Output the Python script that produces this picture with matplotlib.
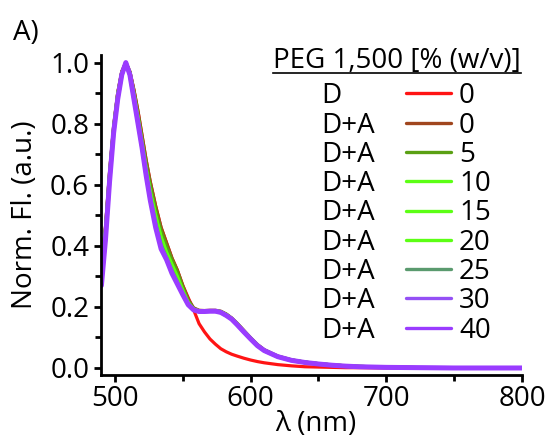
import matplotlib
matplotlib.use("Agg")
import matplotlib.pyplot as plt
from matplotlib.lines import Line2D
from matplotlib.ticker import MultipleLocator

plt.rcParams["font.family"] = ["Open Sans", "DejaVu Sans"]

# emission spectra
wl = [490, 493, 496, 499, 502, 505, 508, 511, 514, 517, 520, 523, 526, 530, 534,
      538, 542, 546, 550, 554, 558, 562, 566, 570, 574, 578, 582, 586, 590, 595,
      600, 605, 610, 620, 630, 640, 650, 660, 670, 680, 700, 725, 750, 775, 800]

d_0 = [0.33, 0.46, 0.64, 0.79, 0.90, 0.97, 1.00, 0.97, 0.91, 0.84, 0.76, 0.68, 0.61, 0.53, 0.46,
       0.41, 0.36, 0.32, 0.27, 0.23, 0.19, 0.145, 0.118, 0.095, 0.078, 0.063, 0.053, 0.045, 0.039, 0.032,
       0.026, 0.021, 0.017, 0.011, 0.007, 0.004, 0.003, 0.002, 0.001, 0.001, 0.0, 0.0, 0.0, 0.0, 0.0]
da_0 = [0.33, 0.46, 0.64, 0.79, 0.90, 0.97, 1.00, 0.97, 0.91, 0.84, 0.76, 0.68, 0.61, 0.53, 0.46,
        0.41, 0.36, 0.32, 0.27, 0.225, 0.197, 0.189, 0.188, 0.189, 0.189, 0.186, 0.177, 0.164, 0.147, 0.123,
        0.099, 0.077, 0.060, 0.039, 0.027, 0.019, 0.014, 0.010, 0.007, 0.005, 0.003, 0.001, 0.001, 0.0, 0.0]
da_5 = [0.33, 0.46, 0.64, 0.79, 0.90, 0.97, 1.00, 0.97, 0.905, 0.83, 0.75, 0.67, 0.60, 0.52, 0.45,
        0.40, 0.355, 0.315, 0.265, 0.22, 0.195, 0.188, 0.187, 0.188, 0.188, 0.185, 0.176, 0.163, 0.146, 0.122,
        0.098, 0.076, 0.059, 0.038, 0.026, 0.019, 0.014, 0.010, 0.007, 0.005, 0.003, 0.001, 0.001, 0.0, 0.0]
da_10 = [0.32, 0.45, 0.63, 0.785, 0.895, 0.965, 1.00, 0.965, 0.895, 0.82, 0.74, 0.655, 0.58, 0.50, 0.43,
         0.38, 0.34, 0.30, 0.255, 0.215, 0.193, 0.187, 0.186, 0.187, 0.187, 0.184, 0.175, 0.162, 0.145, 0.121,
         0.097, 0.075, 0.058, 0.038, 0.026, 0.019, 0.014, 0.010, 0.007, 0.005, 0.003, 0.001, 0.001, 0.0, 0.0]
da_15 = [0.32, 0.45, 0.63, 0.785, 0.895, 0.965, 1.00, 0.965, 0.895, 0.82, 0.735, 0.65, 0.575, 0.495, 0.425,
         0.375, 0.335, 0.295, 0.252, 0.213, 0.192, 0.187, 0.186, 0.187, 0.187, 0.184, 0.175, 0.162, 0.145, 0.121,
         0.097, 0.075, 0.058, 0.038, 0.026, 0.019, 0.014, 0.010, 0.007, 0.005, 0.003, 0.001, 0.001, 0.0, 0.0]
da_20 = [0.31, 0.44, 0.625, 0.78, 0.89, 0.965, 1.00, 0.965, 0.89, 0.815, 0.73, 0.645, 0.57, 0.49, 0.42,
         0.37, 0.33, 0.29, 0.25, 0.212, 0.191, 0.186, 0.186, 0.187, 0.187, 0.183, 0.174, 0.161, 0.144, 0.120,
         0.096, 0.074, 0.058, 0.038, 0.026, 0.019, 0.014, 0.010, 0.007, 0.005, 0.003, 0.001, 0.001, 0.0, 0.0]
da_25 = [0.30, 0.43, 0.62, 0.775, 0.885, 0.96, 1.00, 0.96, 0.885, 0.81, 0.725, 0.64, 0.56, 0.475, 0.405,
         0.362, 0.32, 0.282, 0.245, 0.21, 0.19, 0.185, 0.185, 0.186, 0.186, 0.182, 0.173, 0.160, 0.143, 0.119,
         0.095, 0.074, 0.057, 0.037, 0.025, 0.018, 0.013, 0.009, 0.006, 0.004, 0.002, 0.001, 0.0, 0.0, 0.0]
da_30 = [0.28, 0.425, 0.615, 0.772, 0.882, 0.96, 1.00, 0.96, 0.882, 0.803, 0.722, 0.633, 0.553, 0.465, 0.395,
         0.357, 0.313, 0.277, 0.242, 0.208, 0.19, 0.185, 0.185, 0.186, 0.186, 0.182, 0.172, 0.160, 0.142, 0.118,
         0.095, 0.073, 0.057, 0.037, 0.025, 0.018, 0.013, 0.009, 0.006, 0.004, 0.002, 0.001, 0.0, 0.0, 0.0]
da_40 = [0.27, 0.42, 0.61, 0.77, 0.88, 0.96, 1.00, 0.96, 0.88, 0.80, 0.72, 0.63, 0.55, 0.46, 0.39,
         0.355, 0.31, 0.275, 0.24, 0.207, 0.19, 0.185, 0.185, 0.186, 0.186, 0.182, 0.172, 0.160, 0.142, 0.118,
         0.095, 0.073, 0.057, 0.037, 0.025, 0.018, 0.013, 0.009, 0.006, 0.004, 0.002, 0.001, 0.0, 0.0, 0.0]

series = [d_0, da_0, da_5, da_10, da_15, da_20, da_25, da_30, da_40]
samples = ["D", "D+A", "D+A", "D+A", "D+A", "D+A", "D+A", "D+A", "D+A"]
peg = ["0", "0", "5", "10", "15", "20", "25", "30", "40"]
colors = ["#ff1414", "#a0461e", "#5aa014", "#5cff14", "#5cff14", "#5cff14",
          "#5a9a6e", "#9450f5", "#9a3cff"]
widths = [2.3, 2.3, 2.3, 2.3, 2.3, 2.3, 2.3, 2.8, 3.6]

FS = 20
W, H = 553, 441
fig = plt.figure(figsize=(W / 100, H / 100), dpi=100)
ax = fig.add_axes([101 / W, 1 - 375 / H, 421 / W, 320 / H])

for y, c, lw in zip(series, colors, widths):
    ax.plot(wl, y, color=c, lw=lw, solid_joinstyle="round", solid_capstyle="round")

ax.set_xlim(489.7, 800)
ax.set_ylim(-0.023, 1.025)
ax.xaxis.set_major_locator(MultipleLocator(100))
ax.xaxis.set_minor_locator(MultipleLocator(50))
ax.yaxis.set_major_locator(MultipleLocator(0.2))
ax.yaxis.set_minor_locator(MultipleLocator(0.1))
ax.yaxis.set_major_formatter(lambda v, p: f"{v:.1f}")
for s in ["top", "right"]:
    ax.spines[s].set_visible(False)
for s in ["left", "bottom"]:
    ax.spines[s].set_linewidth(2)
ax.tick_params(which="major", length=5, width=2, labelsize=FS, pad=2)
ax.tick_params(axis="y", which="major", pad=3.5)
ax.tick_params(which="minor", length=4, width=2)
ax.set_xlabel("λ (nm)", fontsize=FS)
ax.set_ylabel("Norm. Fl. (a.u.)", fontsize=FS)
ax.xaxis.set_label_coords((316 - 101) / 421, (375 - 410) / 320)
ax.yaxis.set_label_coords((39 - 101) / 421, 0.5)

fig.text(13 / W, 1 - 40 / H, "A)", fontsize=FS, ha="left", va="baseline")

# legend table: sample | line | PEG %
title = fig.text(273 / W, 1 - 68 / H, "PEG 1,500 [% (w/v)]", fontsize=FS,
                 ha="left", va="baseline")
fig.canvas.draw()
bb = title.get_window_extent()
fig.add_artist(Line2D([bb.x0 / W, bb.x1 / W], [1 - 73 / H, 1 - 73 / H],
                      color="black", lw=1.2))
for i, (s, p, c) in enumerate(zip(samples, peg, colors)):
    yc = 93.3 + i * 29.3
    fig.text(321.7 / W, 1 - (yc + 10) / H, s, fontsize=FS, ha="left", va="baseline")
    fig.text(459 / W, 1 - (yc + 10) / H, p, fontsize=FS, ha="left", va="baseline")
    fig.add_artist(Line2D([406 / W, 450.7 / W], [1 - yc / H, 1 - yc / H],
                          color=c, lw=2.4, solid_capstyle="round"))

fig.savefig("out.png", dpi=100)
